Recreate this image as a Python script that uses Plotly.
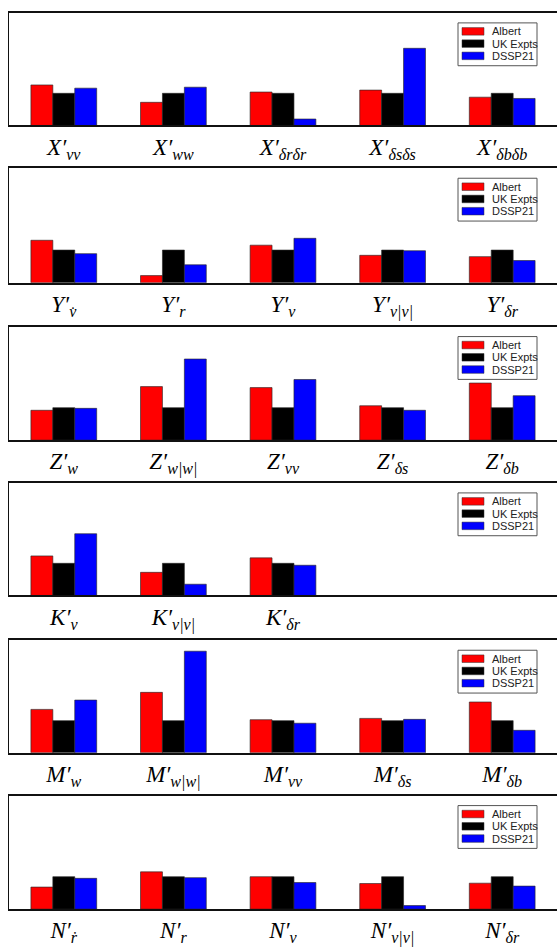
import plotly.graph_objects as go

# ---- data -------------------------------------------------------------
SERIES = ["Albert", "UK Expts", "DSSP21"]
COLORS = ["#ff0000", "#000000", "#0000ff"]

# X (surge) coefficients
x_subs = ["vv", "ww", "δrδr", "δsδs", "δbδb"]
x_albert = [1.26, 0.72, 1.04, 1.10, 0.88]
x_uk = [1.00, 1.00, 1.00, 1.00, 1.00]
x_dssp = [1.16, 1.19, 0.20, 2.40, 0.84]

# Y (sway) coefficients
y_subs = ["v\u0307", "r", "v", "v|v|", "δr"]
y_albert = [1.30, 0.22, 1.15, 0.84, 0.80]
y_uk = [1.00, 1.00, 1.00, 1.00, 1.00]
y_dssp = [0.89, 0.55, 1.36, 0.98, 0.68]

# Z (heave) coefficients
z_subs = ["w", "w|w|", "vv", "δs", "δb"]
z_albert = [0.92, 1.65, 1.62, 1.06, 1.76]
z_uk = [1.00, 1.00, 1.00, 1.00, 1.00]
z_dssp = [0.98, 2.50, 1.87, 0.92, 1.37]

# K (roll) coefficients
k_subs = ["v", "v|v|", "δr"]
k_albert = [1.23, 0.72, 1.17]
k_uk = [1.00, 1.00, 1.00]
k_dssp = [1.92, 0.35, 0.94]

# M (pitch) coefficients
m_subs = ["w", "w|w|", "vv", "δs", "δb"]
m_albert = [1.35, 1.88, 1.03, 1.07, 1.58]
m_uk = [1.00, 1.00, 1.00, 1.00, 1.00]
m_dssp = [1.64, 3.16, 0.92, 1.04, 0.70]

# N (yaw) coefficients
n_subs = ["ṙ", "r", "v", "v|v|", "δr"]
n_albert = [0.68, 1.15, 1.00, 0.79, 0.80]
n_uk = [1.00, 1.00, 1.00, 1.00, 1.00]
n_dssp = [0.95, 0.97, 0.82, 0.11, 0.71]

PANELS = [
    ("X", x_subs, [x_albert, x_uk, x_dssp]),
    ("Y", y_subs, [y_albert, y_uk, y_dssp]),
    ("Z", z_subs, [z_albert, z_uk, z_dssp]),
    ("K", k_subs, [k_albert, k_uk, k_dssp]),
    ("M", m_subs, [m_albert, m_uk, m_dssp]),
    ("N", n_subs, [n_albert, n_uk, n_dssp]),
]

# ---- layout geometry (page pixels) ------------------------------------
W, H = 557, 947
LEFT = 9
PANEL_TOP = [13, 169, 328, 485, 643, 799]
PANEL_BOT = [126, 284, 442, 598, 756, 913]


def px(x):
    return x / W


def py(y):
    return 1 - y / H


def label(sym, sub):
    return f"<i>{sym}′</i><sub><i>{sub}</i></sub>"


fig = go.Figure()

for p, (sym, subs, values) in enumerate(PANELS):
    idx = "" if p == 0 else str(p + 1)
    xs = list(range(1, len(subs) + 1))
    for s, (name, color, vals) in enumerate(zip(SERIES, COLORS, values)):
        fig.add_trace(go.Bar(
            x=xs, y=vals, name=name, showlegend=False,
            marker=dict(color=color, line=dict(color="rgba(40,40,40,0.8)", width=0.8)),
            xaxis="x" + idx, yaxis="y" + idx,
            offsetgroup=str(s),
        ))

    fig.layout["xaxis" + idx] = dict(
        domain=[px(LEFT), 1.0], anchor="y" + idx, range=[0.5, 5.5],
        tickmode="array", tickvals=xs, ticktext=[label(sym, s) for s in subs],
        tickfont=dict(family="Liberation Serif", size=23, color="#000"),
        ticks="", showgrid=False, zeroline=False,
        showline=True, linecolor="#111", linewidth=1.5, mirror=True,
        fixedrange=True,
    )
    fig.layout["yaxis" + idx] = dict(
        domain=[py(PANEL_BOT[p]), py(PANEL_TOP[p])], anchor="x" + idx,
        range=[0, 3.5], showticklabels=False, ticks="", showgrid=False,
        zeroline=False, showline=True, linecolor="#111", linewidth=1.2,
        fixedrange=True,
    )

    # legend box in the upper right of each panel
    bt = PANEL_TOP[p] + 10
    fig.add_shape(type="rect", xref="paper", yref="paper",
                  x0=px(458), x1=px(537), y0=py(bt + 43), y1=py(bt),
                  line=dict(color="#555", width=1), fillcolor="white")
    for s, (name, color) in enumerate(zip(SERIES, COLORS)):
        cy = bt + 8.5 + 12.3 * s
        fig.add_shape(type="rect", xref="paper", yref="paper",
                      x0=px(462), x1=px(484), y0=py(cy + 3.8), y1=py(cy - 3.8),
                      line=dict(color="#333", width=0.5), fillcolor=color)
        fig.add_annotation(x=px(490), y=py(cy), xref="paper", yref="paper",
                           text=name, showarrow=False, xanchor="left",
                           yanchor="middle",
                           font=dict(family="Liberation Sans", size=11, color="#222"))

fig.update_layout(
    width=W, height=H, margin=dict(l=0, r=0, t=0, b=0),
    barmode="group", bargap=0.4, bargroupgap=0,
    plot_bgcolor="white", paper_bgcolor="white",
    showlegend=False,
)

fig.write_html("out.html")
